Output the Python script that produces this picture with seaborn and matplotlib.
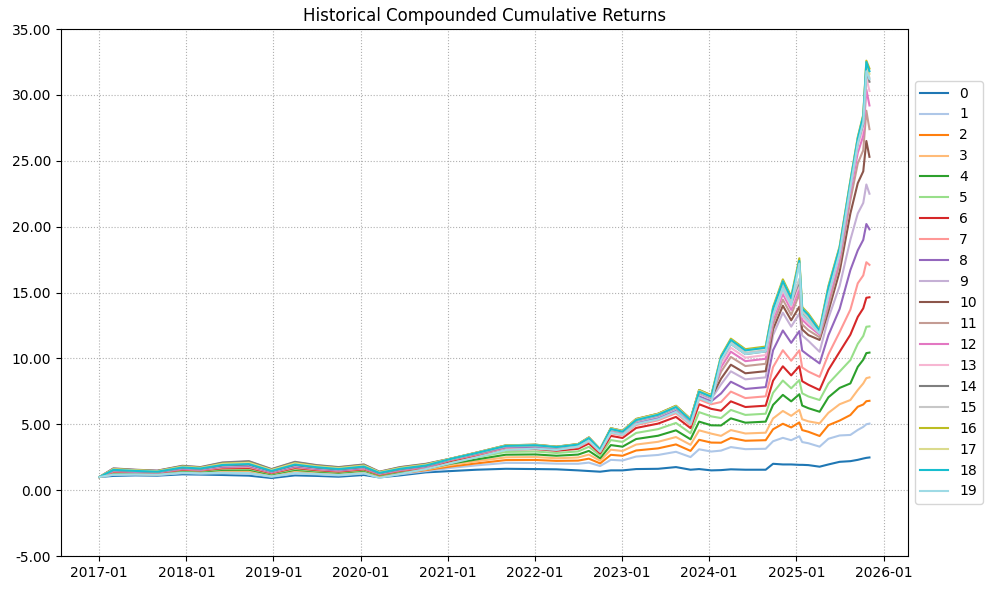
import pandas as pd
import matplotlib
matplotlib.use("Agg")
import matplotlib.pyplot as plt
import matplotlib.dates as mdates
from matplotlib.ticker import FormatStrFormatter
import seaborn as sns

# sample dates
dates = [
    "2017-01-02", "2017-03-01", "2017-06-01", "2017-09-01", "2017-12-15",
    "2018-03-01", "2018-06-01", "2018-09-20", "2018-12-24", "2019-04-01",
    "2019-07-01", "2019-10-01", "2020-01-15", "2020-03-20", "2020-06-15",
    "2020-10-01", "2021-01-15", "2021-05-01", "2021-09-01", "2022-01-03",
    "2022-04-01", "2022-07-01", "2022-08-15", "2022-10-01", "2022-11-15",
    "2023-01-03", "2023-03-01", "2023-06-01", "2023-08-15", "2023-10-15",
    "2023-11-20", "2024-01-10", "2024-02-20", "2024-04-01", "2024-06-01",
    "2024-08-25", "2024-09-25", "2024-11-05", "2024-12-10", "2025-01-13",
    "2025-01-25", "2025-02-20", "2025-04-08", "2025-05-15", "2025-07-01",
    "2025-08-15", "2025-09-15", "2025-10-08", "2025-10-21", "2025-11-03",
]

# cumulative returns per portfolio
ret_00 = [1.00, 1.08, 1.12, 1.10, 1.20, 1.18, 1.15, 1.10, 0.92, 1.12, 1.08, 1.02, 1.15, 0.97, 1.12, 1.35,
          1.45, 1.55, 1.62, 1.60, 1.58, 1.50, 1.45, 1.40, 1.50, 1.50, 1.60, 1.62, 1.75, 1.55, 1.60, 1.50,
          1.52, 1.58, 1.55, 1.55, 2.00, 1.95, 1.95, 1.92, 1.92, 1.90, 1.78, 1.95, 2.15,
          2.20, 2.30, 2.40, 2.45, 2.48]
ret_01 = [1.00, 1.16, 1.18, 1.15, 1.29, 1.26, 1.28, 1.25, 1.02, 1.26, 1.20, 1.12, 1.26, 1.01, 1.21, 1.44,
          1.69, 1.88, 2.07, 2.06, 2.01, 2.00, 2.09, 1.83, 2.30, 2.25, 2.55, 2.67, 2.91, 2.51, 3.10, 2.93,
          3.00, 3.27, 3.11, 3.14, 3.71, 3.97, 3.79, 4.09, 3.65, 3.56, 3.30, 3.90, 4.15,
          4.19, 4.57, 4.80, 5.00, 5.05]
ret_02 = [1.00, 1.23, 1.23, 1.20, 1.37, 1.33, 1.40, 1.39, 1.10, 1.39, 1.29, 1.21, 1.36, 1.07, 1.28, 1.52,
          1.80, 2.03, 2.28, 2.29, 2.22, 2.24, 2.39, 2.03, 2.68, 2.61, 3.01, 3.17, 3.47, 2.98, 3.82, 3.61,
          3.60, 3.96, 3.75, 3.79, 4.62, 5.04, 4.76, 5.14, 4.56, 4.43, 4.11, 4.93, 5.28,
          5.70, 6.33, 6.50, 6.75, 6.78]
ret_03 = [1.00, 1.27, 1.27, 1.23, 1.42, 1.37, 1.47, 1.47, 1.15, 1.47, 1.36, 1.27, 1.42, 1.10, 1.33, 1.57,
          1.92, 2.19, 2.49, 2.51, 2.42, 2.48, 2.70, 2.23, 3.07, 2.97, 3.46, 3.67, 4.03, 3.44, 4.54, 4.29,
          4.12, 4.56, 4.30, 4.36, 5.44, 6.01, 5.64, 6.09, 5.38, 5.22, 5.07, 5.87, 6.52,
          6.84, 7.60, 8.10, 8.50, 8.56]
ret_04 = [1.00, 1.31, 1.30, 1.26, 1.47, 1.41, 1.54, 1.55, 1.20, 1.54, 1.42, 1.32, 1.48, 1.14, 1.38, 1.62,
          2.02, 2.33, 2.69, 2.71, 2.61, 2.70, 2.98, 2.42, 3.42, 3.30, 3.88, 4.13, 4.54, 3.86, 5.20, 4.92,
          4.91, 5.45, 5.12, 5.20, 6.47, 7.23, 6.74, 7.28, 6.42, 6.22, 5.95, 7.05, 7.76,
          8.10, 9.36, 9.90, 10.40, 10.44]
ret_05 = [1.00, 1.35, 1.33, 1.28, 1.51, 1.45, 1.61, 1.63, 1.25, 1.61, 1.47, 1.37, 1.53, 1.17, 1.42, 1.66,
          2.13, 2.49, 2.90, 2.93, 2.82, 2.94, 3.29, 2.62, 3.80, 3.66, 4.34, 4.63, 5.10, 4.32, 5.92, 5.60,
          5.47, 6.09, 5.71, 5.80, 7.39, 8.32, 7.73, 8.35, 7.35, 7.11, 6.84, 8.09, 9.00,
          9.87, 11.10, 11.70, 12.40, 12.43]
ret_06 = [1.00, 1.39, 1.35, 1.31, 1.55, 1.49, 1.66, 1.69, 1.29, 1.68, 1.52, 1.41, 1.58, 1.19, 1.46, 1.70,
          2.23, 2.62, 3.08, 3.12, 2.99, 3.14, 3.54, 2.79, 4.12, 3.96, 4.72, 5.05, 5.56, 4.71, 6.52, 6.17,
          6.03, 6.74, 6.31, 6.41, 8.31, 9.40, 8.71, 9.41, 8.27, 8.00, 7.60, 9.13, 10.50,
          11.80, 13.15, 13.80, 14.60, 14.64]
ret_07 = [1.00, 1.42, 1.38, 1.33, 1.59, 1.52, 1.72, 1.76, 1.33, 1.74, 1.57, 1.46, 1.63, 1.22, 1.50, 1.74,
          2.29, 2.69, 3.19, 3.23, 3.09, 3.26, 3.69, 2.90, 4.32, 4.14, 4.94, 5.30, 5.84, 4.94, 6.88, 6.52,
          6.69, 7.48, 6.99, 7.12, 9.34, 10.62, 9.82, 10.61, 9.31, 9.00, 8.60, 10.31, 12.00,
          13.70, 15.70, 16.30, 17.30, 17.10]
ret_08 = [1.00, 1.46, 1.40, 1.35, 1.63, 1.56, 1.78, 1.83, 1.37, 1.80, 1.62, 1.50, 1.68, 1.25, 1.54, 1.78,
          2.32, 2.75, 3.26, 3.30, 3.16, 3.34, 3.80, 2.96, 4.44, 4.26, 5.10, 5.47, 6.03, 5.09, 7.12, 6.74,
          7.34, 8.23, 7.68, 7.82, 10.62, 12.12, 11.18, 12.07, 10.59, 10.23, 9.62, 11.76, 13.75,
          16.70, 18.20, 19.00, 20.20, 19.80]
ret_09 = [1.00, 1.49, 1.43, 1.37, 1.67, 1.59, 1.83, 1.89, 1.41, 1.86, 1.67, 1.55, 1.73, 1.27, 1.57, 1.82,
          2.35, 2.79, 3.31, 3.36, 3.21, 3.40, 3.87, 3.02, 4.54, 4.35, 5.21, 5.59, 6.17, 5.21, 7.30, 6.92,
          8.03, 9.02, 8.41, 8.56, 11.76, 13.47, 12.41, 13.40, 11.74, 11.33, 10.50, 13.06, 15.50,
          19.00, 21.00, 21.80, 23.20, 22.50]
ret_10 = [1.00, 1.53, 1.46, 1.40, 1.71, 1.63, 1.89, 1.96, 1.45, 1.92, 1.72, 1.59, 1.77, 1.30, 1.61, 1.86,
          2.37, 2.81, 3.35, 3.40, 3.25, 3.44, 3.92, 3.05, 4.60, 4.41, 5.29, 5.68, 6.26, 5.29, 7.42, 7.03,
          8.46, 9.52, 8.87, 9.03, 12.21, 14.00, 12.89, 13.92, 12.20, 11.77, 11.40, 13.58, 16.60,
          21.00, 23.30, 24.20, 26.50, 25.30]
ret_11 = [1.00, 1.60, 1.52, 1.45, 1.80, 1.70, 2.02, 2.11, 1.55, 2.07, 1.83, 1.69, 1.89, 1.36, 1.70, 1.95,
          2.38, 2.82, 3.36, 3.41, 3.27, 3.46, 3.95, 3.07, 4.64, 4.44, 5.32, 5.72, 6.31, 5.32, 7.48, 7.09,
          8.99, 10.11, 9.42, 9.59, 12.59, 14.46, 13.30, 14.90, 12.58, 12.14, 11.60, 14.01, 17.20,
          22.00, 24.80, 25.80, 28.80, 27.40]
ret_12 = [1.00, 1.63, 1.53, 1.47, 1.82, 1.73, 2.06, 2.16, 1.57, 2.11, 1.87, 1.72, 1.92, 1.38, 1.73, 1.97,
          2.39, 2.84, 3.38, 3.43, 3.28, 3.48, 3.98, 3.08, 4.67, 4.47, 5.36, 5.76, 6.35, 5.36, 7.54, 7.14,
          9.33, 10.51, 9.79, 9.97, 12.95, 14.88, 13.68, 15.32, 12.94, 12.48, 11.80, 14.42, 17.60,
          22.60, 25.60, 26.90, 30.40, 29.20]
ret_13 = [1.00, 1.63, 1.54, 1.47, 1.83, 1.73, 2.07, 2.17, 1.58, 2.12, 1.88, 1.73, 1.93, 1.39, 1.73, 1.98,
          2.39, 2.84, 3.38, 3.43, 3.28, 3.48, 3.98, 3.08, 4.67, 4.47, 5.36, 5.76, 6.35, 5.36, 7.54, 7.14,
          9.59, 10.81, 10.06, 10.25, 13.19, 15.16, 13.94, 15.61, 13.18, 12.71, 11.90, 14.69, 17.90,
          23.00, 26.10, 27.50, 31.30, 30.30]
ret_14 = [1.00, 1.65, 1.55, 1.48, 1.85, 1.75, 2.10, 2.20, 1.60, 2.15, 1.90, 1.75, 1.95, 1.40, 1.75, 2.00,
          2.40, 2.85, 3.40, 3.45, 3.30, 3.50, 4.00, 3.10, 4.70, 4.50, 5.40, 5.80, 6.40, 5.40, 7.60, 7.20,
          9.85, 11.10, 10.33, 10.53, 13.42, 15.44, 14.19, 15.89, 13.42, 12.94, 11.95, 14.96, 18.10,
          23.20, 26.40, 27.80, 31.90, 31.00]
ret_15 = [1.00, 1.56, 1.48, 1.42, 1.75, 1.66, 1.95, 2.02, 1.49, 1.99, 1.77, 1.63, 1.82, 1.33, 1.65, 1.90,
          2.37, 2.81, 3.35, 3.40, 3.25, 3.44, 3.92, 3.05, 4.60, 4.41, 5.29, 5.68, 6.26, 5.29, 7.42, 7.03,
          9.94, 11.20, 10.43, 10.62, 13.54, 15.58, 14.32, 16.04, 13.54, 13.06, 12.00, 15.09, 18.20,
          23.30, 26.50, 28.00, 32.10, 31.30]
ret_16 = [1.00, 1.59, 1.51, 1.44, 1.79, 1.69, 2.01, 2.09, 1.53, 2.05, 1.82, 1.68, 1.87, 1.36, 1.69, 1.94,
          2.40, 2.85, 3.40, 3.45, 3.30, 3.50, 4.00, 3.10, 4.70, 4.50, 5.40, 5.80, 6.40, 5.40, 7.60, 7.20,
          10.20, 11.50, 10.70, 10.90, 13.90, 16.00, 14.70, 17.60, 13.90, 13.40, 12.20, 15.50, 18.50,
          23.50, 26.80, 28.50, 32.60, 32.00]
ret_17 = [1.00, 1.58, 1.50, 1.43, 1.77, 1.68, 1.99, 2.07, 1.52, 2.03, 1.80, 1.66, 1.85, 1.35, 1.67, 1.92,
          2.39, 2.84, 3.38, 3.43, 3.28, 3.48, 3.98, 3.08, 4.67, 4.47, 5.36, 5.76, 6.35, 5.36, 7.54, 7.14,
          10.11, 11.40, 10.61, 10.81, 13.78, 15.86, 14.57, 17.30, 13.78, 13.29, 12.10, 15.37, 18.40,
          23.40, 26.70, 28.30, 32.40, 31.60]
ret_18 = [1.00, 1.54, 1.46, 1.40, 1.72, 1.64, 1.91, 1.98, 1.46, 1.94, 1.74, 1.60, 1.79, 1.31, 1.62, 1.87,
          2.38, 2.82, 3.36, 3.41, 3.27, 3.46, 3.95, 3.07, 4.64, 4.44, 5.32, 5.72, 6.31, 5.32, 7.48, 7.09,
          10.11, 11.40, 10.61, 10.81, 13.78, 15.86, 14.57, 17.40, 13.78, 13.29, 12.10, 15.37, 18.40,
          23.40, 26.70, 28.40, 32.50, 31.80]
ret_19 = [1.00, 1.18, 1.20, 1.17, 1.32, 1.28, 1.32, 1.30, 1.04, 1.31, 1.23, 1.15, 1.29, 0.93, 1.23, 1.60,
          2.05, 2.50, 3.05, 3.15, 3.05, 3.30, 3.75, 2.93, 4.38, 4.20, 5.02, 5.38, 5.94, 5.02, 7.00, 6.63,
          9.85, 11.10, 10.33, 10.53, 13.31, 15.30, 14.06, 17.20, 13.30, 12.83, 11.90, 14.82, 18.00,
          23.00, 26.30, 27.90, 31.80, 31.20]

all_returns = [ret_00, ret_01, ret_02, ret_03, ret_04, ret_05, ret_06, ret_07, ret_08, ret_09,
               ret_10, ret_11, ret_12, ret_13, ret_14, ret_15, ret_16, ret_17, ret_18, ret_19]
series_names = [str(i) for i in range(len(all_returns))]

# long format for seaborn
frames = []
for name, vals in zip(series_names, all_returns):
    frames.append(pd.DataFrame({"date": pd.to_datetime(dates), "value": vals, "series": name}))
df = pd.concat(frames, ignore_index=True)

fig, ax = plt.subplots(figsize=(9.91, 5.9), dpi=100)
fig.subplots_adjust(left=0.0616, right=0.9162, bottom=0.0576, top=0.9508)

sns.lineplot(data=df, x="date", y="value", hue="series", hue_order=series_names,
             palette="tab20", linewidth=1.5, ax=ax)

ax.set_title("Historical Compounded Cumulative Returns", fontsize=12)
ax.set_xlabel("")
ax.set_ylabel("")
ax.set_ylim(-5, 35)
ax.yaxis.set_major_formatter(FormatStrFormatter("%.2f"))
ax.xaxis.set_major_locator(mdates.YearLocator())
ax.xaxis.set_major_formatter(mdates.DateFormatter("%Y-%m"))
ax.grid(True, linestyle=":", color="#b0b0b0", linewidth=0.8)

sns.move_legend(ax, "center left", bbox_to_anchor=(1.0, 0.5), title=None, fontsize=10)

fig.savefig("out.png", dpi=100)
